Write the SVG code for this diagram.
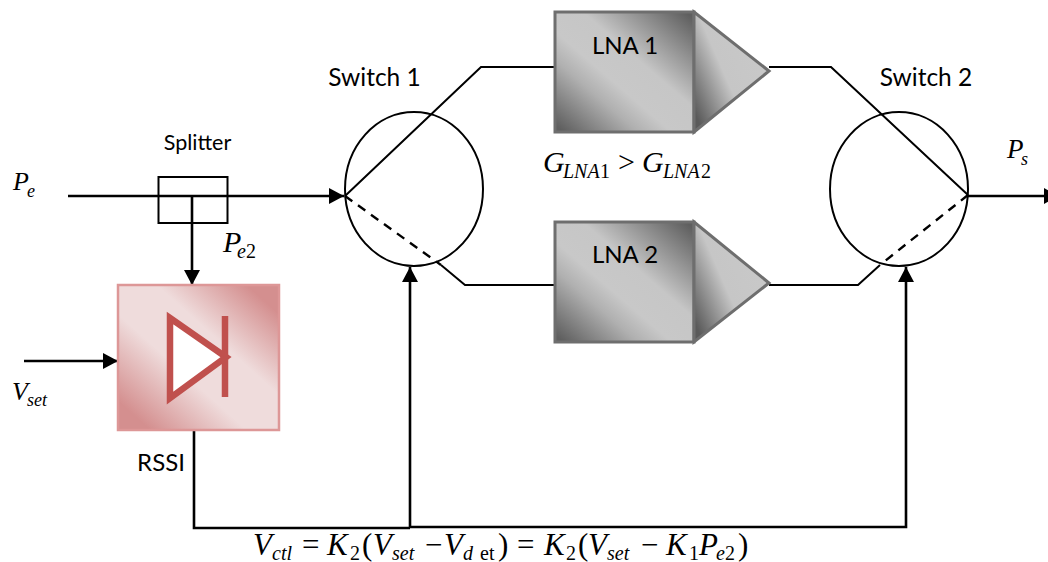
<svg xmlns="http://www.w3.org/2000/svg" width="1048" height="562" viewBox="0 0 1048 562">
<style>
.w{fill:none;stroke:#000;stroke-width:2}
.t{stroke-width:2.6}
.d{stroke-dasharray:9 7;stroke-width:2.4}
.c{font-family:Lato,"Open Sans","Liberation Sans",sans-serif;fill:#000}
.m{font-family:"Liberation Serif","Times New Roman",serif;fill:#000}
.i{font-style:italic}
.s{font-size:20px}
.lna{stroke:#6e6e6e;stroke-width:3}
</style>
<defs>
<linearGradient id="g1" x1="0" y1="1" x2="1" y2="0">
<stop offset="0.03" stop-color="#5f5f5f"/><stop offset="0.3" stop-color="#b0b0b0"/><stop offset="0.42" stop-color="#c8c8c8"/><stop offset="0.6" stop-color="#c6c6c6"/><stop offset="0.97" stop-color="#5f5f5f"/>
</linearGradient>
<linearGradient id="g2" x1="0" y1="1" x2="1" y2="0.3">
<stop offset="0.08" stop-color="#5a5a5a"/><stop offset="0.5" stop-color="#c6c6c6"/><stop offset="1" stop-color="#c9c9c9"/>
</linearGradient>
<linearGradient id="g3" x1="0" y1="1" x2="1" y2="0">
<stop offset="0.1" stop-color="#d48f8f"/><stop offset="0.4" stop-color="#efdcdc"/><stop offset="0.62" stop-color="#efdcdc"/><stop offset="0.9" stop-color="#d48f8f"/>
</linearGradient>
<marker id="a" markerUnits="userSpaceOnUse" markerWidth="16" markerHeight="16" refX="15" refY="8" orient="auto"><path d="M0 0L15 8L0 16Z" fill="#000"/></marker>
</defs>

<g id="connectors">
<path class="w t" d="M68 196H344" marker-end="url(#a)"/>
<path class="w t" d="M192 196V285" marker-end="url(#a)"/>
<path class="w t" d="M24 361H118" marker-end="url(#a)"/>
<path class="w" d="M345 196L481 67H555"/>
<path class="w d" d="M345 196L441 265"/>
<path class="w" d="M441 265L465 285H555"/>
<path class="w" d="M769 67H831L968 195"/>
<path class="w d" d="M968 195L885 261"/>
<path class="w" d="M880 265L858 285H769"/>
<path class="w t" d="M968 196H1059" marker-end="url(#a)"/>
<path class="w t" d="M194 430V528H410"/>
<path class="w t" d="M410 528V267" marker-end="url(#a)"/>
<path class="w t" d="M410 527H906V267" marker-end="url(#a)"/>
</g>

<g id="splitter">
<rect x="158.500" y="177" width="69" height="46" fill="none" stroke="#000" stroke-width="2"/>
<text class="c" x="197.500" y="150" font-size="21.500" text-anchor="middle">Splitter</text>
</g>

<g id="switch1">
<ellipse cx="414" cy="189" rx="69" ry="77" fill="none" stroke="#000" stroke-width="2"/>
<text class="c" x="374.500" y="86" font-size="24.500" text-anchor="middle">Switch 1</text>
</g>

<g id="switch2">
<ellipse cx="899" cy="189" rx="69" ry="77" fill="none" stroke="#000" stroke-width="2"/>
<text class="c" x="926" y="86" font-size="24.500" text-anchor="middle">Switch 2</text>
</g>

<g id="lna1">
<rect class="lna" x="555" y="12" width="139" height="120" fill="url(#g1)"/>
<path class="lna" d="M694 12L769 71L694 132Z" fill="url(#g2)"/>
<text class="c" x="625" y="54" font-size="24" text-anchor="middle">LNA 1</text>
</g>

<g id="lna2">
<rect class="lna" x="555" y="222" width="139" height="120" fill="url(#g1)"/>
<path class="lna" d="M694 222L769 283L694 342Z" fill="url(#g2)"/>
<text class="c" x="625" y="263" font-size="24" text-anchor="middle">LNA 2</text>
</g>

<g id="rssi">
<rect x="118" y="285" width="161" height="145" fill="url(#g3)" stroke="#dd9797" stroke-width="2.500"/>
<path d="M170 318L226 357L170 398Z" fill="#fff" stroke="#c0504d" stroke-width="6.500"/>
<path d="M225 316V397" fill="none" stroke="#c0504d" stroke-width="6.500"/>
<text class="c" x="161" y="471" font-size="24" text-anchor="middle">RSSI</text>
</g>

<g id="labels">
<text class="m i" font-size="26"><tspan x="13" y="190">P</tspan><tspan x="27" y="197" font-size="18">e</tspan></text>
<text class="m i" font-size="27"><tspan x="1007" y="158">P</tspan><tspan x="1021" y="165" font-size="18">s</tspan></text>
<text class="m" font-size="30"><tspan class="i" x="223" y="252">P</tspan><tspan class="i s" x="237" y="258">e</tspan><tspan class="s" x="246" y="258">2</tspan></text>
<text class="m i" font-size="26"><tspan x="12" y="400">V</tspan><tspan x="27" y="406" font-size="18">set</tspan></text>
<text class="m" font-size="30"><tspan class="i" x="543" y="172">G</tspan><tspan class="i s" x="563" y="178">LNA</tspan><tspan class="s" x="600" y="178">1</tspan><tspan x="618" y="172">&gt;</tspan><tspan class="i" x="642" y="172">G</tspan><tspan class="i s" x="663" y="178">LNA</tspan><tspan class="s" x="701" y="178">2</tspan></text>
<text class="m" font-size="31" id="eq"><tspan class="i" x="253" y="555">V</tspan><tspan class="i s" x="272" y="560">ctl</tspan><tspan x="302" y="555">=</tspan><tspan class="i" x="327" y="555">K</tspan><tspan class="s" x="350" y="560">2</tspan><tspan x="362" y="555">(</tspan><tspan class="i" x="373" y="555">V</tspan><tspan class="i s" x="392" y="560">set</tspan><tspan x="425" y="555">−</tspan><tspan class="i" x="444" y="555">V</tspan><tspan class="i s" x="463" y="560">d</tspan><tspan class="s" x="480" y="560">et</tspan><tspan x="498" y="555">)</tspan><tspan x="517" y="555">=</tspan><tspan class="i" x="544" y="555">K</tspan><tspan class="s" x="566" y="560">2</tspan><tspan x="578" y="555">(</tspan><tspan class="i" x="588" y="555">V</tspan><tspan class="i s" x="607" y="560">set</tspan><tspan x="641" y="555">−</tspan><tspan class="i" x="666" y="555">K</tspan><tspan class="s" x="689" y="560">1</tspan><tspan class="i" x="699" y="555">P</tspan><tspan class="i s" x="716" y="560">e</tspan><tspan class="s" x="725" y="560">2</tspan><tspan x="738" y="555">)</tspan></text>
</g>
</svg>
